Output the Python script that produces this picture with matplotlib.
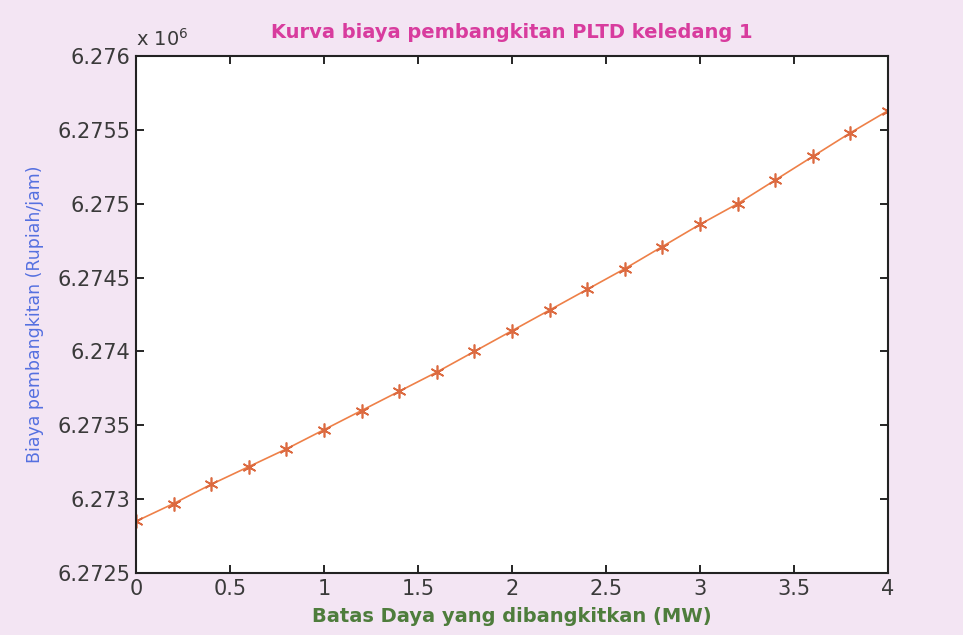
import matplotlib.pyplot as plt
from matplotlib.ticker import FuncFormatter

# generating power (MW) and hourly generation cost (Rupiah/jam)
daya = [0.0, 0.2, 0.4, 0.6, 0.8, 1.0, 1.2, 1.4, 1.6, 1.8, 2.0,
        2.2, 2.4, 2.6, 2.8, 3.0, 3.2, 3.4, 3.6, 3.8, 4.0]
biaya = [6.27285e6, 6.27297e6, 6.27310e6, 6.27322e6, 6.27334e6, 6.27347e6,
         6.27360e6, 6.27373e6, 6.27386e6, 6.27400e6, 6.27414e6, 6.27428e6,
         6.27442e6, 6.27456e6, 6.27471e6, 6.27486e6, 6.27500e6, 6.27516e6,
         6.27532e6, 6.27548e6, 6.27563e6]

xticks = [0, 0.5, 1, 1.5, 2, 2.5, 3, 3.5, 4]
xtick_labels = ['0', '0.5', '1', '1.5', '2', '2.5', '3', '3.5', '4']
yticks = [6.2725e6, 6.273e6, 6.2735e6, 6.274e6, 6.2745e6, 6.275e6, 6.2755e6, 6.276e6]

plt.rcParams['font.family'] = 'DejaVu Sans'

fig = plt.figure(figsize=(9.63, 6.35), dpi=100)
fig.patch.set_facecolor('#f3e5f3')
ax = fig.add_axes([0.1412, 0.0976, 0.7809, 0.8142])
ax.set_facecolor('white')

ax.plot(daya, biaya, color='#ee8048', lw=1.2,
        marker=(6, 2, 0), markersize=10, markeredgewidth=1.2,
        markeredgecolor='#dc6a40', markerfacecolor='#dc6a40')

ax.set_xlim(0, 4)
ax.set_ylim(6.2725e6, 6.276e6)
ax.set_xticks(xticks)
ax.set_xticklabels(xtick_labels)
ax.set_yticks(yticks)
ax.yaxis.set_major_formatter(FuncFormatter(lambda v, p: ('%.4f' % (v / 1e6)).rstrip('0')))

ax.tick_params(direction='in', length=6, width=1.2, top=True, right=True,
               labelsize=15, labelcolor='#3a3a3a', pad=4)
for s in ax.spines.values():
    s.set_linewidth(1.5)
    s.set_color('#222222')

ax.text(0.0, 1.012, r'x 10$^6$', transform=ax.transAxes, fontsize=14,
        color='#3a3a3a', ha='left', va='bottom')

ax.set_title('Kurva biaya pembangkitan PLTD keledang 1', fontsize=14,
             fontweight='bold', color='#d83c9e', pad=13)
ax.set_xlabel('Batas Daya yang dibangkitkan (MW)', fontsize=14,
              fontweight='bold', color='#4e7d3c', labelpad=6)
ax.set_ylabel('Biaya pembangkitan (Rupiah/jam)', fontsize=12.5,
              color='#5570e0', labelpad=10)

fig.savefig('out.png', dpi=100, facecolor=fig.get_facecolor())
